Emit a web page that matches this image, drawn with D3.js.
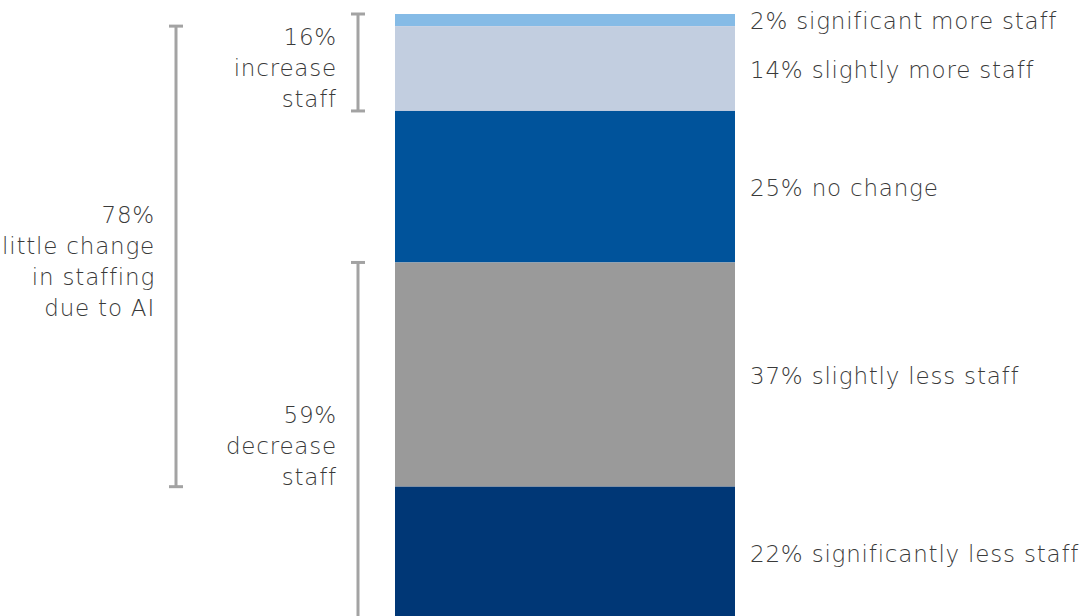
<!DOCTYPE html>
<html>
<head>
<meta charset="utf-8">
<script src="https://cdn.jsdelivr.net/npm/d3@7"></script>
<style>
  body { margin: 0; background: #fff; }
  text { font-family: "DejaVu Sans", sans-serif; font-weight: 200; fill: #3a3a3a; letter-spacing: 0.8px; }
</style>
</head>
<body>
<svg id="chart" width="1080" height="616"></svg>
<script>
// segments, top to bottom
var categories = ["significant more staff", "slightly more staff", "no change", "slightly less staff", "significantly less staff"];
var values = [2, 14, 25, 37, 22];
var colours = ["#85bbe6", "#c2cee0", "#00539b", "#9a9a9a", "#003776"];

// brackets : start / end as cumulative percent
var groupLabels = [["16%", "increase", "staff"], ["59%", "decrease", "staff"], ["78%", "little change", "in staffing", "due to AI"]];
var groupStart = [0, 41, 2];
var groupEnd = [16, 100, 78];
var groupCol = [1, 1, 0]; // 0 = far left, 1 = next to bar

var svg = d3.select("#chart");

var y = d3.scaleLinear().domain([0, 100]).range([14, 620]);
var x = d3.scaleBand().domain(["all"]).range([395, 735]).padding(0);
var bx = d3.scaleOrdinal().domain([0, 1]).range([176, 358]);

// cumul
var segs = [];
var acc = 0;
values.forEach(function(v, i){
	segs.push({cat: categories[i], v: v, y0: acc, y1: acc + v, col: colours[i]});
	acc += v;
});

svg.selectAll("rect.seg")
	.data(segs)
	.enter().append("rect")
	.attr("class", "seg")
	.attr("x", x("all"))
	.attr("width", x.bandwidth())
	.attr("y", function(d){ return y(d.y0); })
	.attr("height", function(d){ return y(d.y1) - y(d.y0); })
	.style("fill", function(d){ return d.col; });

// labels a droite
svg.selectAll("text.lab")
	.data(segs)
	.enter().append("text")
	.attr("class", "lab")
	.attr("x", x("all") + x.bandwidth() + 15)
	.attr("y", function(d, i){ return i == 0 ? y(d.y0) + 7 : (y(d.y0) + y(d.y1)) / 2 + 1; })
	.attr("dy", "0.35em")
	.style("font-size", "23px")
	.text(function(d){ return d.v + "% " + d.cat; });

// brackets
groupLabels.forEach(function(lines, i){
	var cx = bx(groupCol[i]),
		ya = y(groupStart[i]),
		yb = y(groupEnd[i]);
	var g = svg.append("g").style("stroke", "#a3a3a3").style("stroke-width", 3);
	g.append("line").attr("x1", cx).attr("x2", cx).attr("y1", ya).attr("y2", yb);
	g.append("line").attr("x1", cx - 7).attr("x2", cx + 7).attr("y1", ya).attr("y2", ya);
	g.append("line").attr("x1", cx - 7).attr("x2", cx + 7).attr("y1", yb).attr("y2", yb);

	var mid = (ya + yb) / 2 + 5,
		lh = 31,
		top = mid - (lines.length - 1) * lh / 2;
	lines.forEach(function(l, j){
		svg.append("text")
			.attr("x", cx - 21)
			.attr("y", top + j * lh)
			.attr("dy", "0.35em")
			.attr("text-anchor", "end")
			.style("font-size", "23px")
			.text(l);
	});
});
</script>
</body>
</html>
